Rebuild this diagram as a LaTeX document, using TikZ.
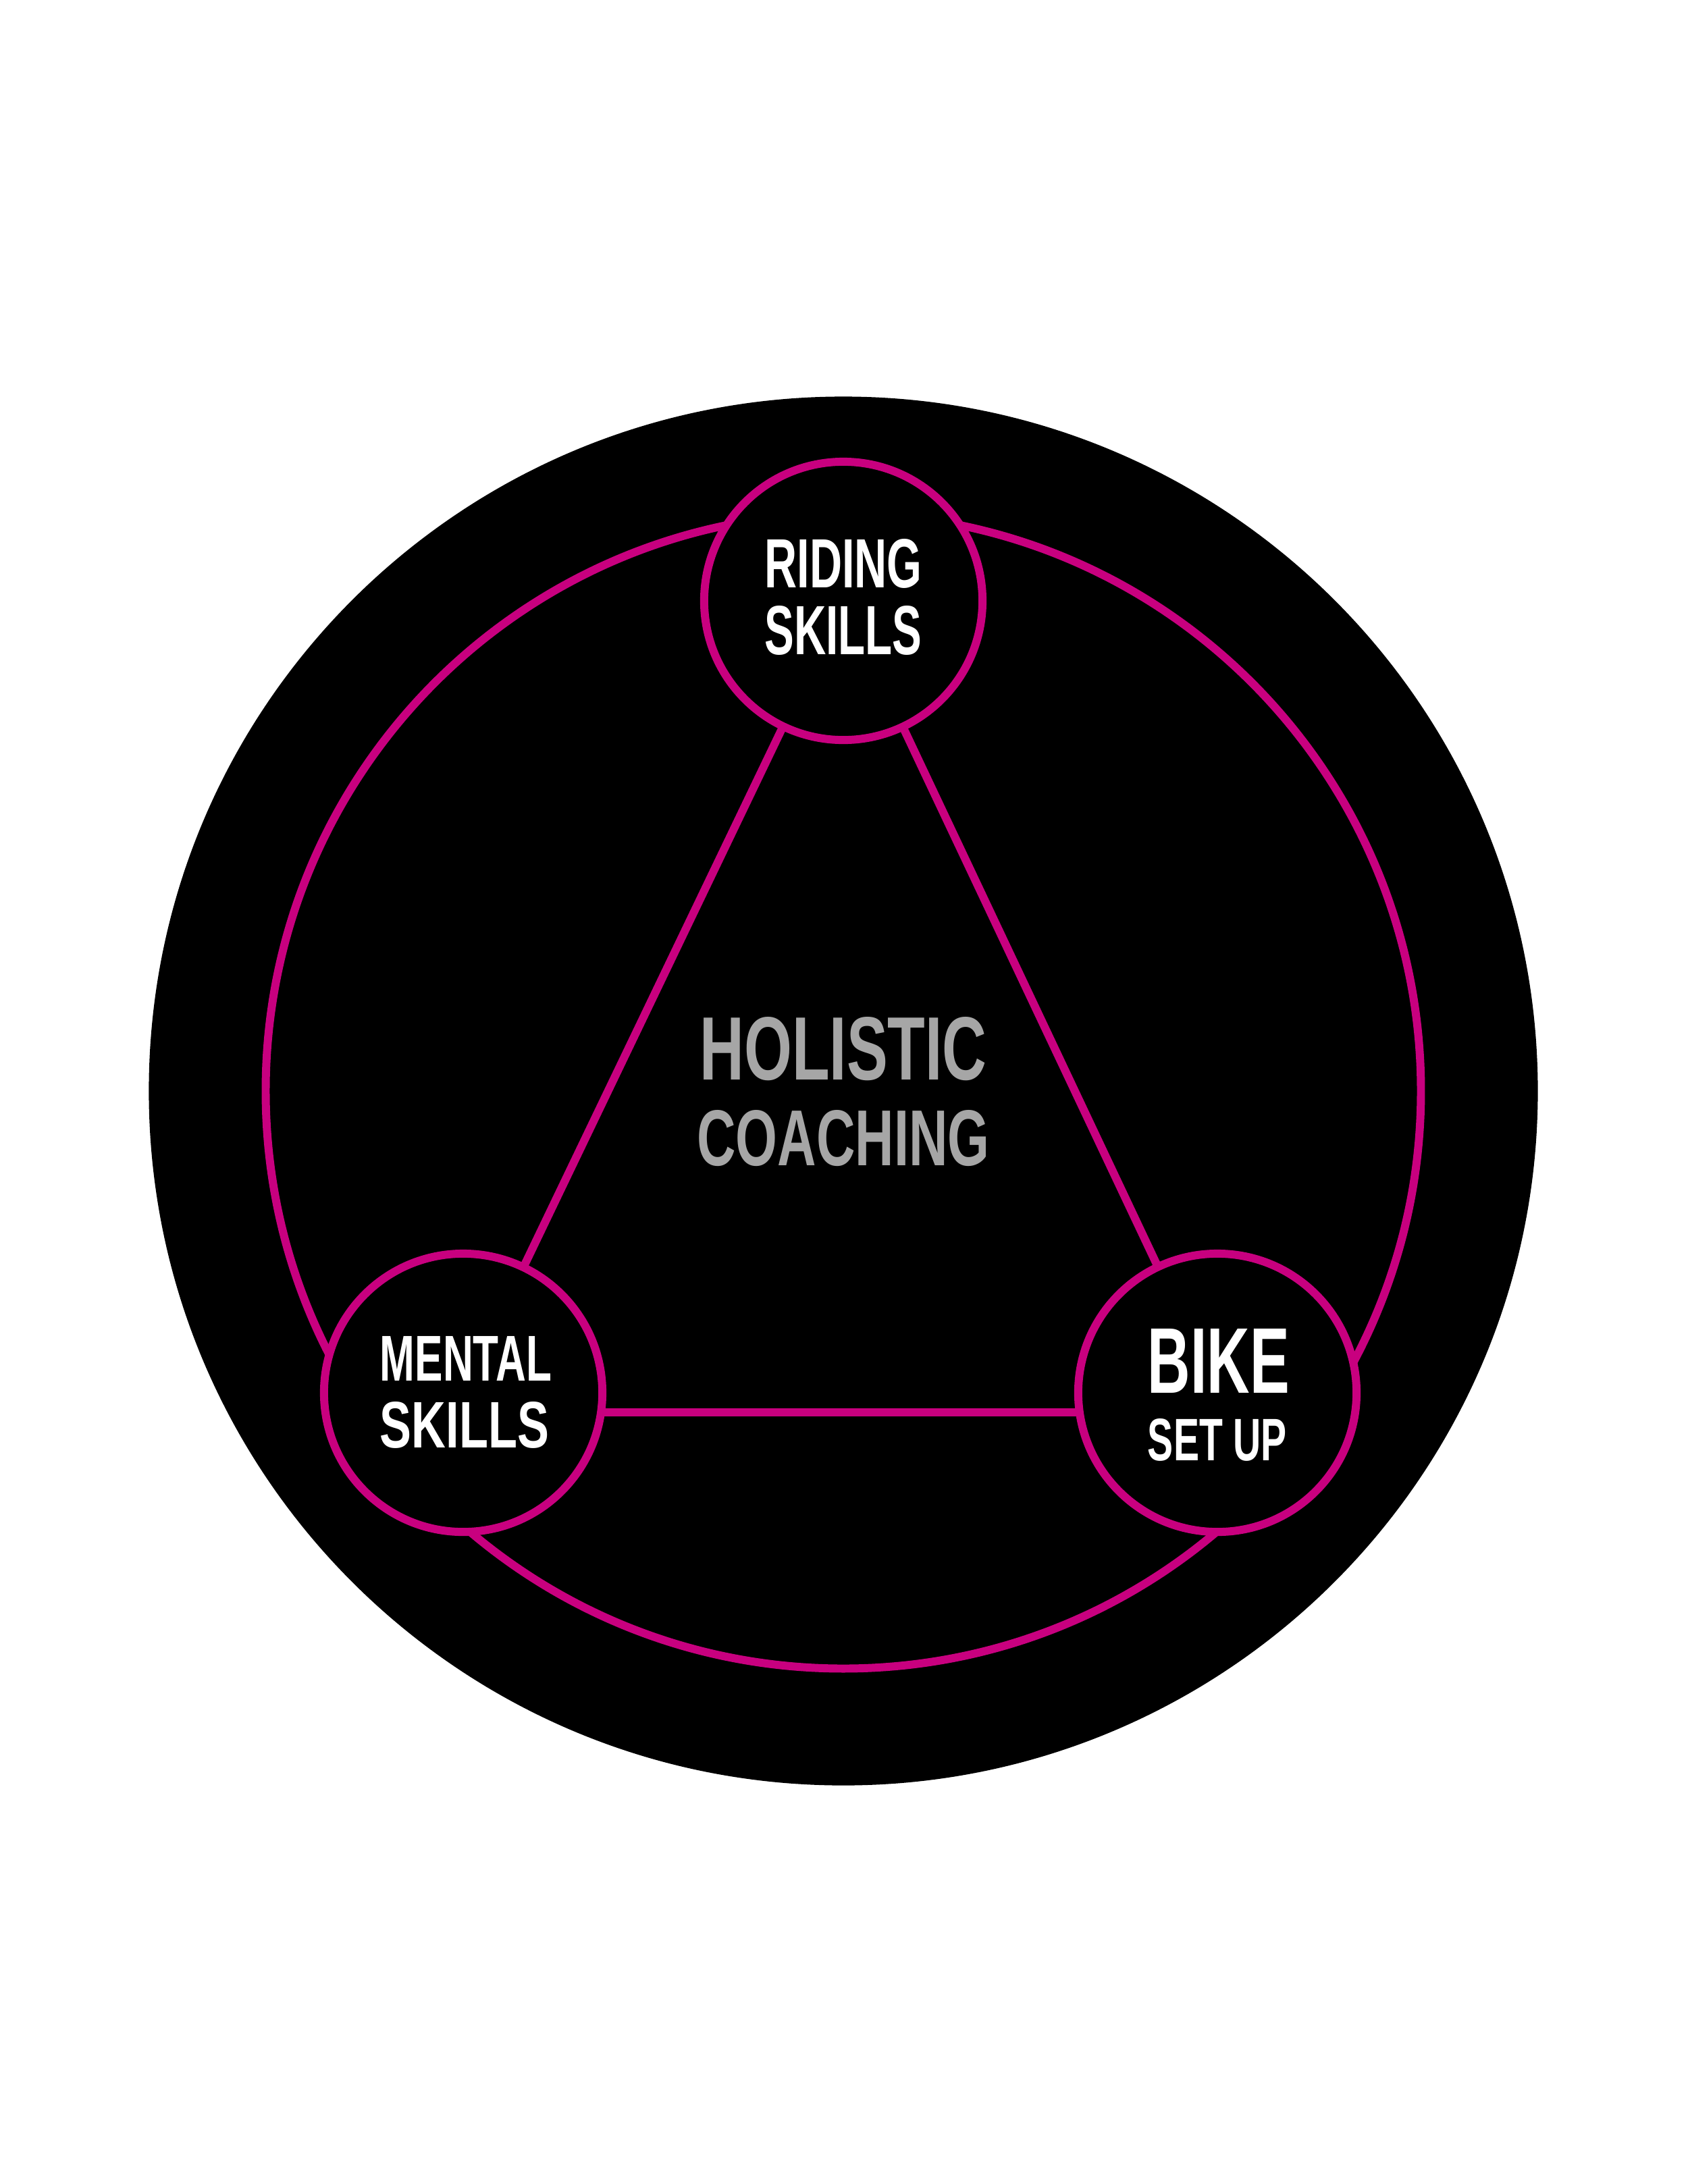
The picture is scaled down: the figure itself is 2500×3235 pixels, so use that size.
\documentclass[tikz,border=0pt]{standalone}
\usepackage{fontspec}
\usepackage{graphicx}
\setmainfont{Liberation Sans}
\definecolor{mag}{HTML}{C8007F}
\definecolor{gry}{HTML}{A6A6A6}
\tikzset{ring/.style={draw=mag,line width=3.4pt},
 small/.style={ring,fill=black,circle,minimum size=4.12cm,inner sep=0pt},
 wtxt/.style={text=white,inner sep=0pt,font=\bfseries},
 gtxt/.style={text=gry,inner sep=0pt,font=\bfseries}}
\newcommand{\rb}[3]{\resizebox{#1cm}{#2cm}{#3}}
\begin{document}
\begin{tikzpicture}[x=0.01cm,y=-0.01cm]
\useasboundingbox (0,0) rectangle (2500,3235);
\fill[white] (0,0) rectangle (2500,3235);
\node[circle,fill=black,minimum size=20.56cm,inner sep=0pt] (big) at (1249,1616) {};
\node[circle,ring,minimum size=17.1cm,inner sep=0pt] (ring) at (1249,1616) {};
\coordinate (ml) at (888,2092);
\coordinate (bl) at (1600,2092);
\coordinate (rc) at (1249,890);
\coordinate (mc) at (686,2063);
\coordinate (bc) at (1803,2063);
\draw[ring] (ml) -- (bl);
\draw[ring] (rc) -- (mc);
\draw[ring] (rc) -- (bc);
\node[small] (r) at (rc) {};
\node[small] (m) at (mc) {};
\node[small] (b) at (bc) {};
\node[wtxt] (t1) at (1249,835) {\rb{2.33}{0.72}{RIDING}};
\node[wtxt] (t2) at (1249,934) {\rb{2.33}{0.72}{SKILLS}};
\node[gtxt] (t3) at (1249,1554) {\rb{4.25}{0.93}{HOLISTIC}};
\node[gtxt] (t4) at (1249,1686) {\rb{4.33}{0.82}{COACHING}};
\node[wtxt] (t5) at (690,2012) {\rb{2.54}{0.66}{MENTAL}};
\node[wtxt] (t6) at (688,2111) {\rb{2.50}{0.68}{SKILLS}};
\node[wtxt] (t7) at (1805,2016) {\rb{2.10}{0.95}{BIKE}};
\node[wtxt] (t8) at (1803,2133) {\rb{2.06}{0.62}{SET UP}};
\end{tikzpicture}
\end{document}
